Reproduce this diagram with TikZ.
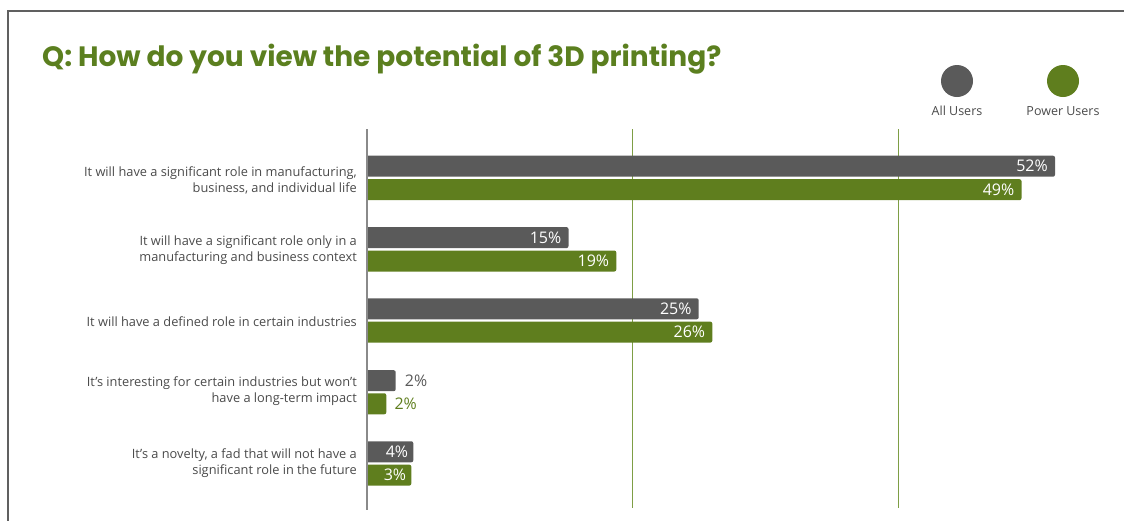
\documentclass[tikz,border=0pt]{standalone}
\usepackage{fontspec}
\setmainfont{Open Sans}
\newfontfamily\titlefont{Poppins}
\definecolor{barGray}{HTML}{5A5A5A}
\definecolor{barGreen}{HTML}{5F7E1E}
\definecolor{titleGreen}{HTML}{5B7F1F}
\definecolor{txtGray}{HTML}{4A4A4A}
\definecolor{gridGreen}{HTML}{7E9E45}
\definecolor{frameGray}{HTML}{606060}
\definecolor{axisGray}{HTML}{8A8A8A}
\tikzset{
  catlabel/.style={anchor=east, align=right, inner sep=0pt, text=txtGray,
    font=\fontsize{12.8}{16}\selectfont},
  pctin/.style={anchor=east, inner sep=0pt, text=white, font=\fontsize{16}{16}\selectfont},
  pctout/.style={anchor=west, inner sep=0pt, font=\fontsize{16}{16}\selectfont},
  legtext/.style={anchor=center, inner sep=0pt, text=txtGray, font=\fontsize{12.5}{14}\selectfont},
}
% name, colour, top y, end x
\newcommand{\hbarpiece}[4]{%
  \fill[#2] (368,#3) [rounded corners=2] -- (#4,#3) -- (#4,#3+21) [sharp corners] -- (368,#3+21) -- cycle;
  \coordinate (#1) at (#4,#3+10.5);
}
\begin{document}
\begin{tikzpicture}[x=1pt,y=-1pt]
\useasboundingbox (0,0) rectangle (1124,520);
\begin{scope}
\clip (0,0) rectangle (1124,520);
\draw[frameGray, line width=2] (1130,11) -- (8,11) -- (8,530);
\end{scope}
% title
\node[anchor=base west, inner sep=0pt, text=titleGreen, font=\titlefont\bfseries\fontsize{28}{30}\selectfont] (title) at (42,66) {Q: How do you view the potential of 3D printing?};
% legend
\fill[barGray] (957,81) circle (16);
\fill[barGreen] (1063,81) circle (16);
\node[legtext] (legA) at (957,111) {All Users};
\node[legtext] (legB) at (1063,111) {Power Users};
% gridlines
\draw[gridGreen, line width=1] (632,129) -- (632,508);
\draw[gridGreen, line width=1] (898,129) -- (898,508);
% bars
\hbarpiece{g1}{barGray}{155.7}{1055}
\hbarpiece{p1}{barGreen}{179.2}{1021.5}
\hbarpiece{g2}{barGray}{227.1}{568.5}
\hbarpiece{p2}{barGreen}{250.5}{616.3}
\hbarpiece{g3}{barGray}{298.3}{698.7}
\hbarpiece{p3}{barGreen}{321.6}{712.3}
\hbarpiece{g4}{barGray}{370.2}{395.7}
\hbarpiece{p4}{barGreen}{393.3}{386.3}
\hbarpiece{g5}{barGray}{441.3}{413.3}
\hbarpiece{p5}{barGreen}{464.6}{411.3}
% axis
\draw[axisGray, line width=2] (367,129) -- (367,510);
% values
\node[pctin] (v1a) at ([xshift=-7]g1) {52\%};
\node[pctin] (v1b) at ([xshift=-7]p1) {49\%};
\node[pctin] (v2a) at ([xshift=-7]g2) {15\%};
\node[pctin] (v2b) at ([xshift=-7]p2) {19\%};
\node[pctin] (v3a) at ([xshift=-7]g3) {25\%};
\node[pctin] (v3b) at ([xshift=-7]p3) {26\%};
\node[pctout, text=barGray] (v4a) at ([xshift=9]g4) {2\%};
\node[pctout, text=barGreen] (v4b) at ([xshift=8]p4) {2\%};
\node[pctin] (v5a) at ([xshift=-5]g5) {4\%};
\node[pctin] (v5b) at ([xshift=-5]p5) {3\%};
% category labels
\node[catlabel] (c1) at (357,180) {It will have a significant role in manufacturing,\\business, and individual life};
\node[catlabel] (c2) at (357,250.5) {It will have a significant role only in a\\manufacturing and business context};
\node[catlabel] (c3) at (357,321.5) {It will have a defined role in certain industries};
\node[catlabel] (c4) at (357,391) {It’s interesting for certain industries but won’t\\have a long-term impact};
\node[catlabel] (c5) at (357,463) {It's a novelty, a fad that will not have a\\significant role in the future};
\end{tikzpicture}
\end{document}
